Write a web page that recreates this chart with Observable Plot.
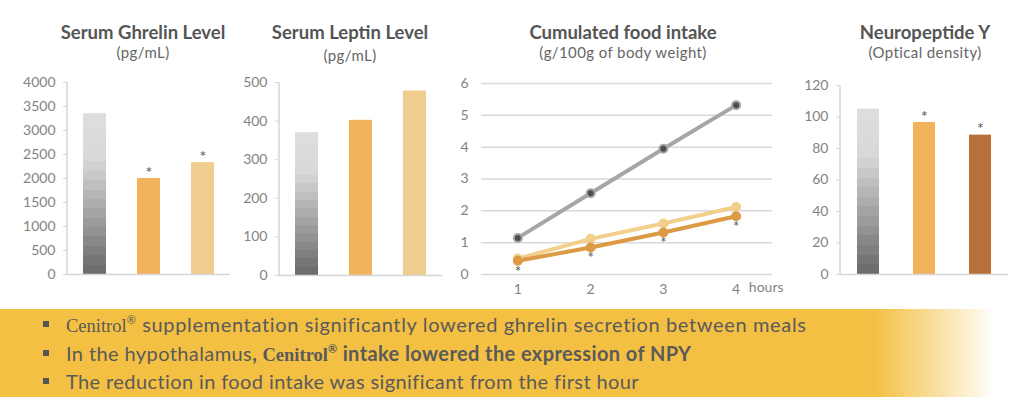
<!DOCTYPE html>
<html><head><meta charset="utf-8">
<script src="https://cdn.jsdelivr.net/npm/d3@7"></script>
<script src="https://cdn.jsdelivr.net/npm/@observablehq/plot@0.6"></script>
<style>
body{margin:0;width:1024px;height:397px;position:relative;overflow:hidden;background:#fff;font-family:Lato,"Noto Sans",sans-serif;}
.chart{position:absolute;top:70px;}
.chart svg{overflow:visible;}
.title{position:absolute;width:260px;text-align:center;font-weight:700;font-size:18.5px;color:#555;line-height:22px;top:21px;white-space:nowrap;}
.sub{position:absolute;width:260px;text-align:center;font-size:15px;color:#666;line-height:18px;top:43px;letter-spacing:0.4px;white-space:nowrap;}
#banner{position:absolute;left:0;top:309px;width:992px;height:88px;background:linear-gradient(to right,#f3c043 0px,#f3c043 875px,#fdf3dc 975px,#ffffff 992px);}
.line{position:absolute;left:66px;font-size:20px;letter-spacing:0.4px;line-height:28px;color:#5a5a5a;white-space:nowrap;}
.bul{position:absolute;left:43px;width:6px;height:6px;background:#555;}
.serif{font-family:"Liberation Serif","DejaVu Serif",serif;font-size:18.5px;letter-spacing:0;}
.reg{position:relative;top:-8px;font-size:11px;}
b{font-weight:700;}
</style>
</head><body>
<div class="title" style="left:13px">Serum Ghrelin Level</div>
<div class="sub" style="left:13px">(pg/mL)</div>
<div class="title" style="left:220px">Serum Leptin Level</div>
<div class="sub" style="left:220px;top:46px">(pg/mL)</div>
<div class="title" style="left:493px">Cumulated food intake</div>
<div class="sub" style="left:493px">(g/100g of body weight)</div>
<div class="title" style="left:795px">Neuropeptide Y</div>
<div class="sub" style="left:795px">(Optical density)</div>

<div id="c1" class="chart" style="left:0px"></div>
<div id="c2" class="chart" style="left:240px"></div>
<div id="c3" class="chart" style="left:450px"></div>
<div id="c4" class="chart" style="left:800px"></div>

<div id="banner"></div>
<div class="bul" style="top:321px"></div>
<div class="bul" style="top:350px"></div>
<div class="bul" style="top:378px"></div>
<div class="line" style="top:310px;letter-spacing:0.65px"><span class="serif">Cenitrol</span><span class="reg">®</span> supplementation significantly lowered ghrelin secretion between meals</div>
<div class="line" style="top:339px">In the hypothalamus<b>, <span class="serif">Cenitrol</span><span class="reg">®</span> intake lowered the expression of NPY</b></div>
<div class="line" style="top:367px">The reduction in food intake was significant from the first hour</div>

<script>
// ---- data ----
const groups = ["Control", "Cenitrol® A", "Cenitrol® B"];
const ghrelinValues = [3350, 2000, 2330];
const ghrelinSig = [false, true, true];
const ghrelinTicks = [0, 500, 1000, 1500, 2000, 2500, 3000, 3500, 4000];
const leptinValues = [370, 402, 478];
const leptinSig = [false, false, false];
const leptinTicks = [0, 100, 200, 300, 400, 500];
const npyValues = [105, 96.5, 88.5];
const npySig = [false, true, true];
const npyTicks = [0, 20, 40, 60, 80, 100, 120];
const hours = [1, 2, 3, 4];
const foodControl = [1.15, 2.55, 3.95, 5.32];
const foodLight = [0.5, 1.12, 1.6, 2.12];
const foodDark = [0.43, 0.85, 1.32, 1.83];
const foodSig = [true, true, true, true];
const foodTicks = [0, 1, 2, 3, 4, 5, 6];

const TICK_COLOR = "#838383";
const AXIS_COLOR = "#d6d6d6";
const baseStyle = {fontFamily: "Lato, 'Noto Sans', sans-serif", fontSize: "14px", color: TICK_COLOR, background: "transparent", overflow: "visible"};

function addGrayGradient(svg, id) {
  const top = "#dedede", bottom = "#6b6867";
  const interp = d3.interpolateRgb("#d6d6d6", bottom);
  const n = 12;
  let stops = `<stop offset="0" stop-color="${top}"/><stop offset="0.3" stop-color="#d8d8d8"/>`;
  for (let k = 0; k < n; k++) {
    const a = 0.3 + 0.7 * k / n, b = 0.3 + 0.7 * (k + 1) / n, c = interp((k + 0.5) / n);
    stops += `<stop offset="${a}" stop-color="${c}"/><stop offset="${b}" stop-color="${c}"/>`;
  }
  const defs = document.createElementNS("http://www.w3.org/2000/svg", "defs");
  defs.innerHTML = `<linearGradient id="${id}" x1="0" y1="0" x2="0" y2="1">${stops}</linearGradient>`;
  svg.insertBefore(defs, svg.firstChild);
}

function leftLine(index, scales, values, dims) {
  const l = document.createElementNS("http://www.w3.org/2000/svg", "line");
  l.setAttribute("x1", dims.marginLeft); l.setAttribute("x2", dims.marginLeft);
  l.setAttribute("y1", dims.marginTop); l.setAttribute("y2", dims.height - dims.marginBottom);
  l.setAttribute("stroke", AXIS_COLOR); l.setAttribute("stroke-width", 1.5);
  return l;
}

function barChart(el, {values, sig, colors, ticks, width, mL, mR, mT, mB, padIn, padOut, gid}) {
  const data = groups.map((g, i) => ({group: g, value: values[i], sig: sig[i], color: colors[i]}));
  const svg = Plot.plot({
    width, height: 220, marginLeft: mL, marginRight: mR, marginTop: mT, marginBottom: mB,
    style: baseStyle,
    x: {domain: groups, paddingInner: padIn, paddingOuter: padOut, axis: null},
    y: {domain: [ticks[0], ticks[ticks.length - 1]], axis: null},
    color: {type: "identity"},
    marks: [
      Plot.axisY({ticks, tickSize: 4, tickPadding: 8, stroke: AXIS_COLOR, fill: TICK_COLOR, label: null, tickFormat: d => String(d)}),
      Plot.barY(data, {x: "group", y: "value", fill: "color"}),
      leftLine,
      Plot.ruleY([0], {stroke: AXIS_COLOR, strokeWidth: 1.5}),
      Plot.text(data.filter(d => d.sig), {x: "group", y: "value", text: () => "*", dy: -6, fill: "#555", fontSize: 16})
    ]
  });
  addGrayGradient(svg, gid);
  document.getElementById(el).appendChild(svg);
}

barChart("c1", {values: ghrelinValues, sig: ghrelinSig, colors: ["url(#g1)", "#f3b35c", "#f0cc8f"], ticks: ghrelinTicks,
  width: 240, mL: 67, mR: 10, mT: 12, mB: 16, padIn: 0.58, padOut: 0.29, gid: "g1"});
barChart("c2", {values: leptinValues, sig: leptinSig, colors: ["url(#g2)", "#f3b35c", "#f0cc8f"], ticks: leptinTicks,
  width: 210, mL: 39, mR: 8, mT: 12, mB: 15, padIn: 0.58, padOut: 0.29, gid: "g2"});
barChart("c4", {values: npyValues, sig: npySig, colors: ["url(#g4)", "#f3b35c", "#b8703a"], ticks: npyTicks,
  width: 224, mL: 40, mR: 16, mT: 15, mB: 16, padIn: 0.6, padOut: 0.3, gid: "g4"});

// ---- food intake line chart ----
const series = [
  {name: "Control", values: foodControl, color: "#a6a6a6"},
  {name: "Cenitrol® B", values: foodLight, color: "#f3cf8c"},
  {name: "Cenitrol® A", values: foodDark, color: "#dc9a45"}
];
const long = series.flatMap(s => hours.map((h, i) => ({series: s.name, hour: h, value: s.values[i], color: s.color})));
const darkPts = hours.map((h, i) => ({hour: h, value: foodDark[i], sig: foodSig[i]})).filter(d => d.sig);

const food = Plot.plot({
  width: 340, height: 230, marginLeft: 31, marginRight: 18, marginTop: 13, marginBottom: 26,
  style: baseStyle,
  x: {domain: [0.5, 4.5], axis: null},
  y: {domain: [0, 6], axis: null},
  color: {type: "identity"},
  marks: [
    Plot.gridY(foodTicks, {stroke: "#d9d9d9", strokeOpacity: 1, strokeWidth: 1.5}),
    Plot.axisY({ticks: foodTicks, tickSize: 0, tickPadding: 13, fill: TICK_COLOR, label: null, tickFormat: d => String(d)}),
    Plot.axisX({ticks: hours, tickSize: 0, tickPadding: 10, fill: TICK_COLOR, label: null, tickFormat: d => String(d)}),
    Plot.line(long, {x: "hour", y: "value", z: "series", stroke: "color", strokeWidth: 4}),
    Plot.dot(long.filter(d => d.series !== "Control"), {x: "hour", y: "value", r: 5, fill: "color"}),
    Plot.dot(long.filter(d => d.series === "Control"), {x: "hour", y: "value", r: 4, fill: "#4d4d4d", stroke: "#a6a6a6", strokeWidth: 2}),
    Plot.text(darkPts, {x: "hour", y: "value", text: () => "*", dy: 11, fill: "#555", fontSize: 15}),
    Plot.text(["hours"], {frameAnchor: "bottom-right", text: d => d, dy: 17, dx: 11, fill: TICK_COLOR, fontSize: 14})
  ]
});
document.getElementById("c3").appendChild(food);
</script>
</body></html>
